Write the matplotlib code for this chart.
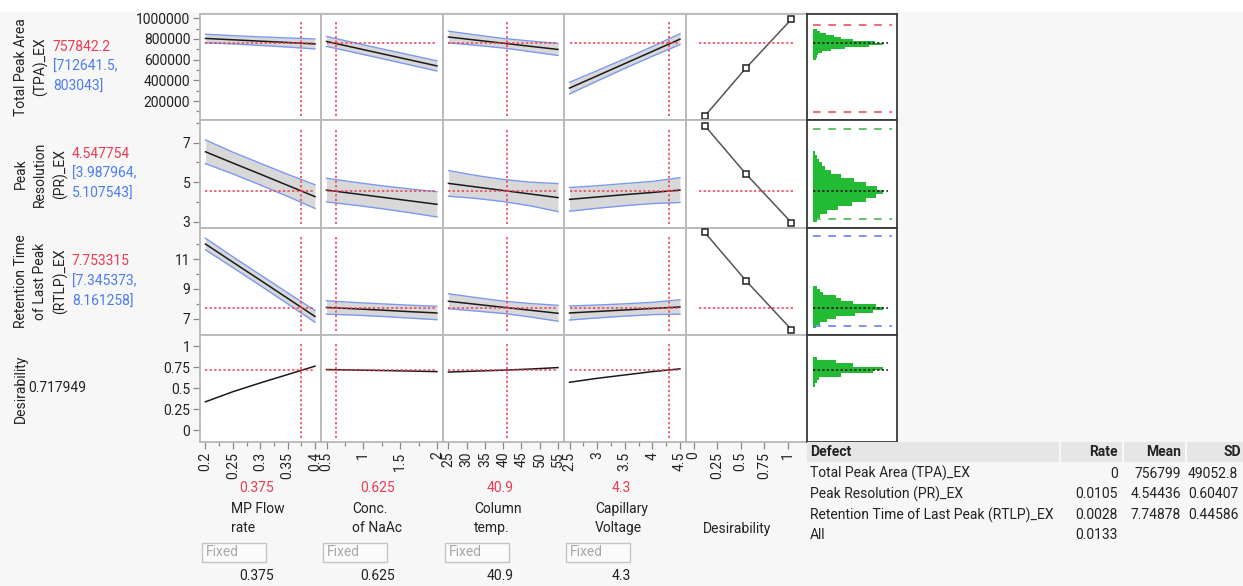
import numpy as np
import matplotlib
matplotlib.use("Agg")
import matplotlib.pyplot as plt
from matplotlib.patches import Rectangle

# ---------------- data ----------------
factor_names = [["MP Flow", "rate"], ["Conc.", "of NaAc"], ["Column", "temp."], ["Capillary", "Voltage"]]
factor_current = [0.375, 0.625, 40.9, 4.3]
factor_current_text = ["0.375", "0.625", "40.9", "4.3"]
factor_grid = [[0.2, 0.25, 0.3, 0.35, 0.4],
               [0.5, 0.875, 1.25, 1.625, 2.0],
               [25, 32.5, 40, 47.5, 55],
               [2.5, 3.0, 3.5, 4.0, 4.5]]
factor_ticks = [[0.2, 0.25, 0.3, 0.35, 0.4], [0.5, 1, 1.5, 2], [25, 30, 35, 40, 45, 50, 55], [2.5, 3, 3.5, 4, 4.5]]
factor_ticklabels = [["0.2", "0.25", "0.3", "0.35", "0.4"], ["0.5", "1", "1.5", "2"],
                     ["25", "30", "35", "40", "45", "50", "55"], ["2.5", "3", "3.5", "4", "4.5"]]
factor_minor = [[0.225, 0.275, 0.325, 0.375], [0.75, 1.25, 1.75], [], [2.75, 3.25, 3.75, 4.25]]

response_names = [["Total Peak Area", "(TPA)_EX"], ["Peak", "Resolution", "(PR)_EX"],
                  ["Retention Time", "of Last Peak", "(RTLP)_EX"], ["Desirability"]]
response_current = [757842.2, 4.547754, 7.753315, 0.717949]
response_current_text = ["757842.2", "4.547754", "7.753315", "0.717949"]
response_ci_text = [["[712641.5,", "803043]"], ["[3.987964,", "5.107543]"], ["[7.345373,", "8.161258]"], []]
response_ylim = [(17000, 1040000), (2.68, 8.15), (5.93, 13.07), (-0.14, 1.137)]
response_ticks = [[200000, 400000, 600000, 800000, 1000000], [3, 5, 7], [7, 9, 11], [0, 0.25, 0.5, 0.75, 1]]
response_ticklabels = [["200000", "400000", "600000", "800000", "1000000"], ["3", "5", "7"], ["7", "9", "11"],
                       ["0", "0.25", "0.5", "0.75", "1"]]
response_minor = [[100000, 300000, 500000, 700000, 900000], [4, 6, 8], [8, 10, 12], []]

# predicted profile values at factor_grid points, per response row / factor column
pred_tpa = [[804000, 791000, 778000, 765000, 751000],
            [775000, 716000, 657000, 598000, 539000],
            [818000, 788000, 758000, 728000, 698000],
            [325000, 443000, 561000, 679000, 797000]]
half_tpa = [[41000, 40000, 41000, 44000, 48000],
            [48000, 47000, 47000, 48000, 49000],
            [56000, 50000, 46000, 51000, 58000],
            [56000, 50000, 46000, 47000, 52000]]
pred_pr = [[6.54, 5.97, 5.41, 4.84, 4.27],
           [4.60, 4.42, 4.24, 4.06, 3.88],
           [4.94, 4.76, 4.58, 4.40, 4.22],
           [4.13, 4.25, 4.37, 4.48, 4.60]]
half_pr = [[0.60, 0.55, 0.55, 0.56, 0.60],
           [0.60, 0.58, 0.58, 0.60, 0.64],
           [0.65, 0.58, 0.56, 0.60, 0.71],
           [0.60, 0.57, 0.56, 0.56, 0.63]]
pred_rtlp = [[12.00, 10.79, 9.59, 8.38, 7.17],
             [7.77, 7.68, 7.59, 7.49, 7.40],
             [8.18, 7.98, 7.78, 7.58, 7.38],
             [7.40, 7.50, 7.60, 7.70, 7.80]]
half_rtlp = [[0.39, 0.36, 0.36, 0.37, 0.39],
             [0.45, 0.42, 0.42, 0.43, 0.45],
             [0.50, 0.45, 0.41, 0.45, 0.53],
             [0.47, 0.43, 0.41, 0.41, 0.48]]
pred_desir = [[0.34, 0.46, 0.565, 0.665, 0.765],
              [0.725, 0.719, 0.713, 0.707, 0.700],
              [0.695, 0.706, 0.717, 0.731, 0.748],
              [0.573, 0.620, 0.660, 0.700, 0.733]]

# desirability function anchor points (desirability, response)
desir_x = [0.12, 0.56, 1.04]
desir_tpa = [55500, 522000, 990000]
desir_pr = [7.86, 5.40, 2.95]
desir_rtlp = [12.77, 9.53, 6.29]

# simulated distributions (bin edges, relative counts)
hist_tpa_edges = [600000, 620000, 640000, 660000, 680000, 700000, 720000, 740000, 760000,
                  780000, 800000, 820000, 840000, 860000, 880000, 900000]
hist_tpa_counts = [0.04, 0.05, 0.07, 0.12, 0.25, 0.45, 0.80, 1.00, 0.88, 0.57, 0.40, 0.30, 0.18, 0.10, 0.05]
hist_pr_edges = [3.0, 3.2, 3.4, 3.6, 3.8, 4.0, 4.2, 4.4, 4.6, 4.8, 5.0, 5.2, 5.4, 5.6, 5.8, 6.0, 6.2, 6.4, 6.6]
hist_pr_counts = [0.05, 0.10, 0.20, 0.35, 0.55, 0.75, 0.90, 1.00, 0.92, 0.75, 0.58, 0.40, 0.25, 0.17, 0.12,
                  0.08, 0.05, 0.03]
hist_rtlp_edges = [6.4, 6.6, 6.8, 7.0, 7.2, 7.4, 7.6, 7.8, 8.0, 8.2, 8.4, 8.6, 8.8, 9.0, 9.2]
hist_rtlp_counts = [0.04, 0.10, 0.20, 0.33, 0.60, 0.86, 1.00, 0.90, 0.57, 0.40, 0.33, 0.14, 0.10, 0.05]
hist_desir_edges = [0.52, 0.56, 0.60, 0.64, 0.68, 0.72, 0.76, 0.80, 0.84, 0.88]
hist_desir_counts = [0.03, 0.05, 0.08, 0.40, 0.86, 1.00, 0.57, 0.33, 0.05]
spec_tpa = [91000, 936000]
spec_pr = [3.14, 7.71]
spec_rtlp = [6.51, 12.55]

table_header = ["Defect", "Rate", "Mean", "SD"]
table_defect = ["Total Peak Area (TPA)_EX", "Peak Resolution (PR)_EX",
                "Retention Time of Last Peak (RTLP)_EX", "All"]
table_rate = ["0", "0.0105", "0.0028", "0.0133"]
table_mean = ["756799", "4.54436", "7.74878", ""]
table_sd = ["49052.8", "0.60407", "0.44586", ""]

# ---------------- style ----------------
FONT = ["Roboto", "DejaVu Sans"]
plt.rcParams["font.family"] = FONT
W, H = 1243, 586
BG = "#f7f7f7"
RED = "#ee3b4f"
BLUE_TXT = "#4d7cf0"
BAND_EDGE = "#7a9af0"
BAND_FILL = "#d8d8d8"
GREEN = "#22bb33"
TXT = "#222222"
GRID_EDGE = "#b8b8b8"
FS = 10

fig = plt.figure(figsize=(W / 100, H / 100), dpi=100, facecolor=BG)
fig.add_artist(Rectangle((0, 1 - 12 / H), 1, 12 / H, transform=fig.transFigure,
                         facecolor="white", edgecolor="none", zorder=0))


def ftext(x, y, s, **kw):
    kw.setdefault("fontsize", FS)
    kw.setdefault("color", TXT)
    fig.text(x / W, 1 - y / H, s, **kw)


def add_ax(x0, y0, x1, y1):
    return fig.add_axes([x0 / W, 1 - y1 / H, (x1 - x0) / W, (y1 - y0) / H])


col_x = [200, 321, 443, 564, 686, 807, 897]
row_y = [14, 120, 228, 335, 442]

preds = [pred_tpa, pred_pr, pred_rtlp, pred_desir]
halves = [half_tpa, half_pr, half_rtlp, None]
desir_ys = [desir_tpa, desir_pr, desir_rtlp]
hists = [(hist_tpa_edges, hist_tpa_counts), (hist_pr_edges, hist_pr_counts),
         (hist_rtlp_edges, hist_rtlp_counts), (hist_desir_edges, hist_desir_counts)]
specs = [(spec_tpa, "#e8434f"), (spec_pr, "#3cb04a"), (spec_rtlp, "#5577ee"), None]

dot = (0, (1.5, 1.5))

for r in range(4):
    y0, y1 = row_y[r], row_y[r + 1]
    cur = response_current[r]
    for c in range(6):
        ax = add_ax(col_x[c], y0, col_x[c + 1], y1)
        ax.set_facecolor("white")
        ax.set_ylim(*response_ylim[r])
        ec = GRID_EDGE if c < 5 else "#3a3a3a"
        for s in ax.spines.values():
            s.set_color(ec)
            s.set_linewidth(1.3)
        ax.tick_params(which="both", left=False, bottom=False, labelleft=False, labelbottom=False)
        if c < 4:
            xs = np.array(factor_grid[c], dtype=float)
            span = xs[-1] - xs[0]
            ax.set_xlim(xs[0] - 0.05 * span, xs[-1] + 0.055 * span)
            p = np.array(preds[r][c], dtype=float)
            if halves[r] is not None:
                h = np.array(halves[r][c], dtype=float)
                ax.fill_between(xs, p - h, p + h, color=BAND_FILL, lw=0, zorder=1)
                ax.plot(xs, p + h, color=BAND_EDGE, lw=1.0, zorder=2)
                ax.plot(xs, p - h, color=BAND_EDGE, lw=1.0, zorder=2)
            ax.plot(xs, p, color="#1a1a1a", lw=1.1, zorder=3)
            ax.hlines(cur, xs[0], xs[-1], color=RED, lw=1.1, linestyles=[dot], zorder=4)
            ax.axvline(factor_current[c], ymin=0.035, ymax=0.925, color=RED, lw=1.1,
                       linestyle=dot, zorder=4)
            if r == 3:
                ax.tick_params(which="both", bottom=True, labelbottom=True, color="#888888",
                               labelsize=FS, labelcolor=TXT, pad=2)
                ax.tick_params(which="major", length=5, width=0.9)
                ax.tick_params(which="minor", length=3, width=0.9)
                ax.set_xticks(factor_ticks[c])
                ax.set_xticklabels(factor_ticklabels[c], rotation=90)
                ax.set_xticks(factor_minor[c], minor=True)
        elif c == 4:
            ax.set_xlim(-0.08, 1.205)
            if r < 3:
                ax.plot(desir_x, desir_ys[r], color="#555555", lw=1.1, zorder=2)
                ax.plot(desir_x, desir_ys[r], ls="none", marker="s", ms=4, mfc="white",
                        mec="#222222", mew=1.1, zorder=3)
                ax.hlines(cur, 0.06, 1.06, color=RED, lw=1.1, linestyles=[dot], zorder=4)
            else:
                ax.tick_params(which="both", bottom=True, labelbottom=True, color="#888888",
                               labelsize=FS, labelcolor=TXT, pad=2)
                ax.tick_params(which="major", length=5, width=0.9)
                ax.set_xticks([0, 0.25, 0.5, 0.75, 1])
                ax.set_xticklabels(["0", "0.25", "0.5", "0.75", "1"], rotation=90)
        else:
            ax.set_xlim(-0.09, 1.2)
            edges, counts = hists[r]
            edges = np.array(edges, dtype=float)
            ax.barh((edges[:-1] + edges[1:]) / 2, counts, height=np.diff(edges), left=0,
                    color=GREEN, lw=0, zorder=2)
            ax.hlines(cur, 0, 1.07, color="#111111", lw=1.1, linestyles=[(0, (1.5, 1.5))], zorder=3)
            if specs[r] is not None:
                vals, col = specs[r]
                for v in vals:
                    ax.hlines(v, 0, 1.13, color=col, lw=1.1, linestyles=[(0, (5, 5))], zorder=3)
        if c == 0:
            ax.tick_params(which="both", left=True, labelleft=True, color="#888888",
                           labelsize=FS, labelcolor=TXT, pad=2)
            ax.tick_params(which="major", length=5, width=0.9)
            ax.tick_params(which="minor", length=3, width=0.9)
            ax.set_yticks(response_ticks[r])
            ax.set_yticklabels(response_ticklabels[r])
            ax.set_yticks(response_minor[r], minor=True)

# ---------------- left labels ----------------
label_x = [[20.7, 40], [20.7, 40, 60], [20.7, 40, 60], [20.7]]
value_x = [53, 72, 72, 28]
for r in range(4):
    yc = (row_y[r] + row_y[r + 1]) / 2
    for i, line in enumerate(response_names[r]):
        ftext(label_x[r][i], yc, line, rotation=90, ha="center", va="center")
    if response_ci_text[r]:
        ftext(value_x[r], yc - 20, response_current_text[r], color=RED, ha="left", va="center")
        ftext(value_x[r], yc, response_ci_text[r][0], color=BLUE_TXT, ha="left", va="center")
        ftext(value_x[r], yc + 20, response_ci_text[r][1], color=BLUE_TXT, ha="left", va="center")
    else:
        ftext(value_x[r], yc, response_current_text[r], ha="left", va="center")

# ---------------- factor labels ----------------
for c in range(4):
    x0 = col_x[c]
    ftext(x0 + 57, 488, factor_current_text[c], color=RED, ha="center", va="center")
    ftext(x0 + 31, 509, factor_names[c][0], ha="left", va="center")
    ftext(x0 + 31, 528, factor_names[c][1], ha="left", va="center")
    fig.add_artist(Rectangle(((x0 + 2) / W, 1 - 562 / H), 64 / W, 19 / H, transform=fig.transFigure,
                             facecolor="#fbfbfb", edgecolor="#c4c4c4", lw=1.0))
    ftext(x0 + 6, 552.5, "Fixed", color="#a8a8a8", ha="left", va="center")
    ftext(x0 + 57, 576, factor_current_text[c], ha="center", va="center")
ftext(737, 529, "Desirability", ha="center", va="center")

# ---------------- table ----------------
hdr_cells = [(807, 1059), (1061, 1122), (1124, 1185), (1187, 1243)]
for a, b in hdr_cells:
    fig.add_artist(Rectangle((a / W, 1 - 462 / H), (b - a) / W, 20 / H, transform=fig.transFigure,
                             facecolor="#e6e6e6", edgecolor="none"))
ftext(810, 452, table_header[0], ha="left", va="center", fontweight="bold")
ftext(1118, 452, table_header[1], ha="right", va="center", fontweight="bold")
ftext(1181, 452, table_header[2], ha="right", va="center", fontweight="bold")
ftext(1224, 452, table_header[3], ha="left", va="center", fontweight="bold")
row_ty = [473.5, 494, 515, 535]
for i in range(4):
    ftext(810, row_ty[i], table_defect[i], ha="left", va="center")
    ftext(1118, row_ty[i], table_rate[i], ha="right", va="center")
    ftext(1181, row_ty[i], table_mean[i], ha="right", va="center")
    ftext(1188, row_ty[i], table_sd[i], ha="left", va="center")

fig.savefig("out.png", dpi=100, facecolor=BG)
